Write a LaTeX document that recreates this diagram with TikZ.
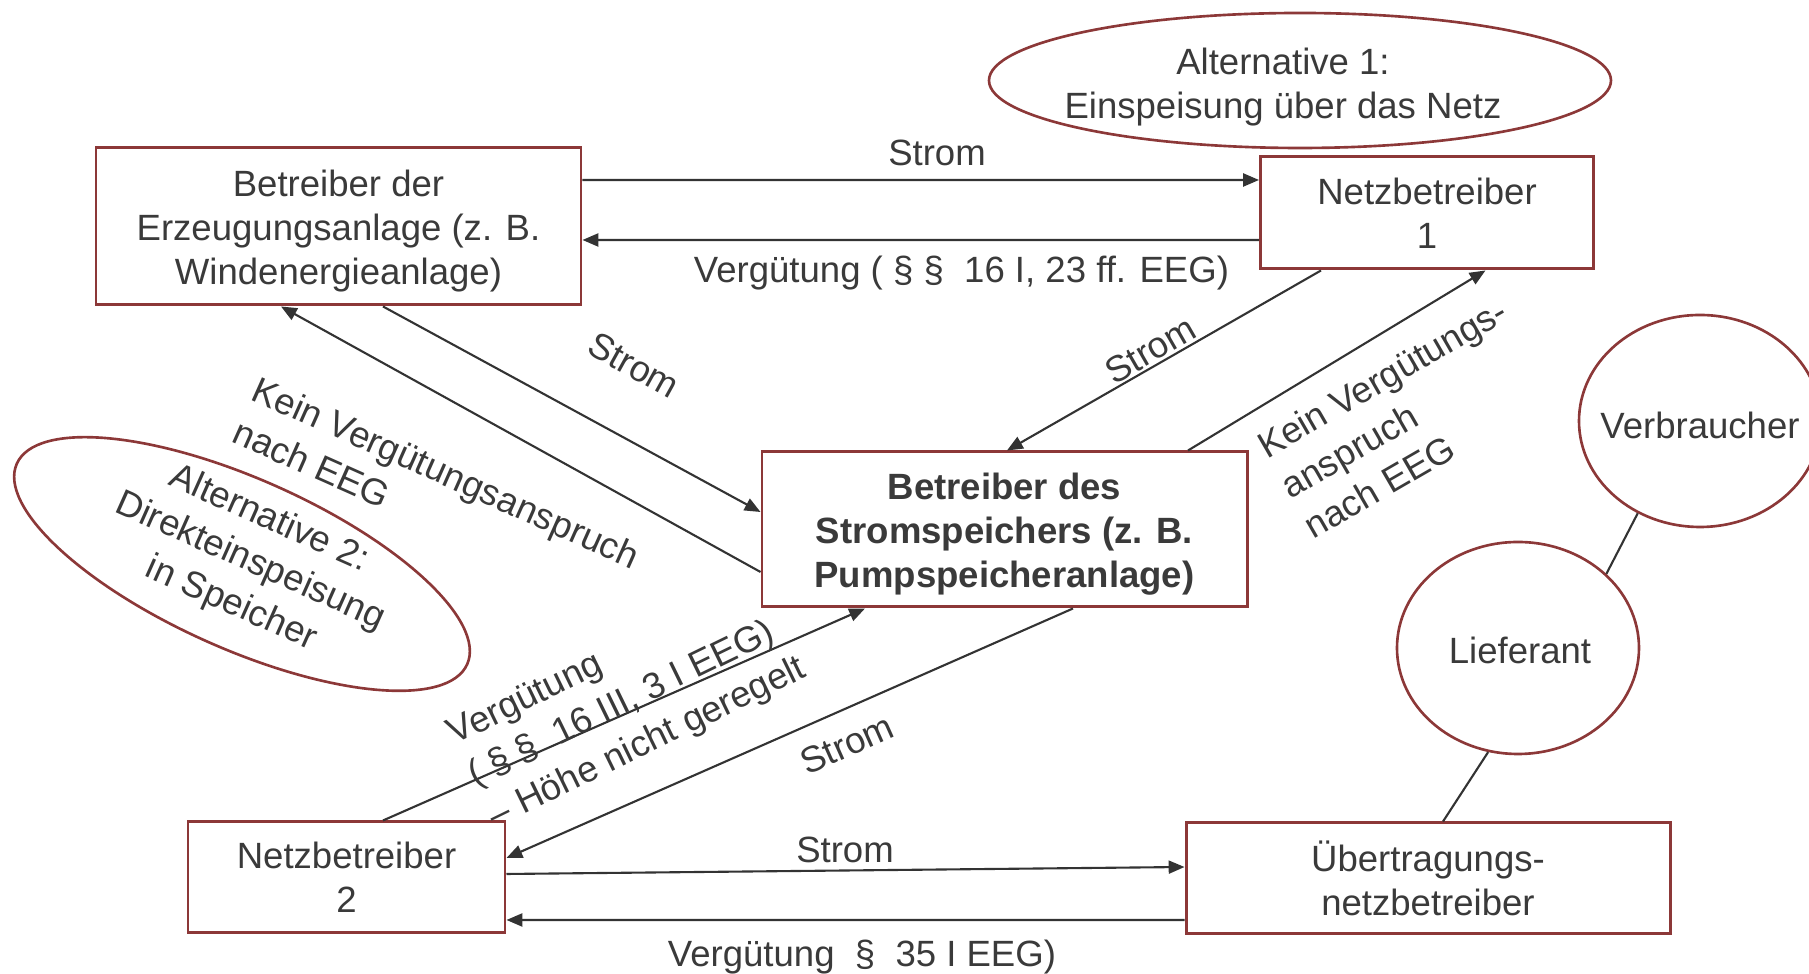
\documentclass[tikz,border=0pt]{standalone}
\usepackage{fontspec}
\setmainfont{Liberation Sans}
\usetikzlibrary{shapes.geometric,arrows.meta}

\definecolor{rahmen}{RGB}{140,56,56}
\definecolor{schrift}{RGB}{58,58,58}
\definecolor{linie}{RGB}{51,51,51}

\tikzset{
    kasten/.style={draw=rahmen, line width=0.85pt, inner sep=0pt, align=center, text=schrift},
    oval/.style={ellipse, draw=rahmen, line width=0.75pt, inner sep=0pt},
    lbl/.style={text=schrift, inner sep=0pt},
    schraeg/.style={lbl, align=left, anchor=north west, font=\fontsize{10.4}{13.2}\selectfont},
    fluss/.style={draw=linie, line width=0.6pt, -{Triangle[length=4.5pt,width=3.7pt]}},
    strich/.style={draw=linie, line width=0.6pt}
}

\begin{document}
\begin{tikzpicture}[x=1cm, y=-1cm, font=\fontsize{10.4}{12.6}\selectfont]
            \useasboundingbox (0,0) rectangle (18.09,9.74);

            % Кастены (участники)
            \node[kasten, minimum width=4.85cm, minimum height=1.57cm] (erzeuger) at (3.385,2.265) {\rule{0pt}{10.2pt}Betreiber der\\Erzeugungsanlage (z. B.\\Windenergieanlage)};
            \node[kasten, minimum width=3.33cm, minimum height=1.12cm] (netz1) at (14.27,2.13) {Netzbetreiber\\1};
            \node[kasten, minimum width=4.85cm, minimum height=1.55cm, font=\fontsize{10.4}{12.6}\selectfont\bfseries] (speicher) at (10.045,5.295) {\rule{0pt}{10.2pt}Betreiber des\\Stromspeichers (z. B.\\Pumpspeicheranlage)};
            \node[kasten, minimum width=3.17cm, minimum height=1.11cm] (netz2) at (3.465,8.775) {Netzbetreiber\\2};
            \node[kasten, minimum width=4.84cm, minimum height=1.11cm] (uenb) at (14.28,8.785) {Übertragungs-\\netzbetreiber};

            % Овалы
            \node[oval, minimum width=6.22cm, minimum height=1.35cm] (alt1) at (13.00,0.805) {};
            \node[lbl, align=center] (alt1txt) at (12.83,0.87) {Alternative 1:\\Einspeisung über das Netz};
            \node[oval, rotate=-24, minimum width=4.93cm, minimum height=1.70cm] (alt2) at (2.42,5.64) {};
            \node[lbl, rotate=-24, align=center, font=\fontsize{10.4}{13.2}\selectfont] (alt2txt) at (2.50,5.62) {Alternative 2:\\Direkteinspeisung\\in Speicher};
            \node[oval, minimum width=2.42cm, minimum height=2.12cm] (verbr) at (17.00,4.21) {};
            \node[lbl] (verbrtxt) at (17.00,4.25) {Verbraucher};
            \node[oval, minimum width=2.42cm, minimum height=2.12cm] (lief) at (15.18,6.48) {};
            \node[lbl] (lieftxt) at (15.20,6.50) {Lieferant};

            % Стрелки
            \draw[fluss] ([yshift=4.65mm]erzeuger.east) -- ([yshift=3.3mm]netz1.west);
            \draw[fluss] ([yshift=-2.7mm]netz1.west) -- ([yshift=-1.35mm]erzeuger.east);
            \draw[fluss] ([xshift=4.45mm]erzeuger.south) -- ([yshift=1.75mm]speicher.west);
            \draw[fluss] ([yshift=-4.25mm]speicher.west) -- ([xshift=-5.75mm]erzeuger.south);
            \draw[fluss] ([xshift=-10.6mm]netz1.south) -- ([xshift=0.25mm]speicher.north);
            \draw[fluss] ([xshift=18.35mm]speicher.north) -- ([xshift=5.85mm]netz1.south);
            \draw[fluss] ([xshift=3.65mm]netz2.north) -- ([xshift=-13.95mm]speicher.south);
            \draw[fluss] ([xshift=6.85mm]speicher.south) -- ([yshift=1.95mm]netz2.east);
            \draw[fluss] ([yshift=0.35mm]netz2.east) -- ([yshift=1.15mm]uenb.west);
            \draw[fluss] ([yshift=-4.15mm]uenb.west) -- ([yshift=-4.25mm]netz2.east);

            % Линии без стрелок
            \draw[strich] (verbr.236) -- (lief.40);
            \draw[strich] (lief.254) -- ([xshift=1.5mm]uenb.north);

            % Подписи
            \node[lbl] (strom1) at (9.37,1.53) {Strom};
            \node[lbl] (verg1) at (9.615,2.73) {Vergütung ( §~§~~16 I, 23 ff. EEG)};
            \node[lbl, rotate=-29] (strom2) at (6.34,3.65) {Strom};
            \node[schraeg, rotate=-24] (kein1) at (2.60,3.74) {Kein Vergütungsanspruch\\nach EEG};
            \node[lbl, rotate=30] (strom3) at (11.50,3.50) {Strom};
            \node[schraeg, rotate=30] (kein2) at (12.53,4.36) {Kein Vergütungs-\\anspruch\\nach EEG};
            \node[schraeg, rotate=26] (verg2) at (4.43,7.22) {Vergütung\\( §~§~~16 III, 3 I EEG)\\– Höhe nicht geregelt};
            \node[lbl, rotate=24] (strom4) at (8.47,7.44) {Strom};
            \node[lbl] (strom5) at (8.45,8.50) {Strom};
            \node[lbl] (verg3) at (8.62,9.57) {Vergütung~~§~~35 I EEG)};
        \end{tikzpicture}
\end{document}
